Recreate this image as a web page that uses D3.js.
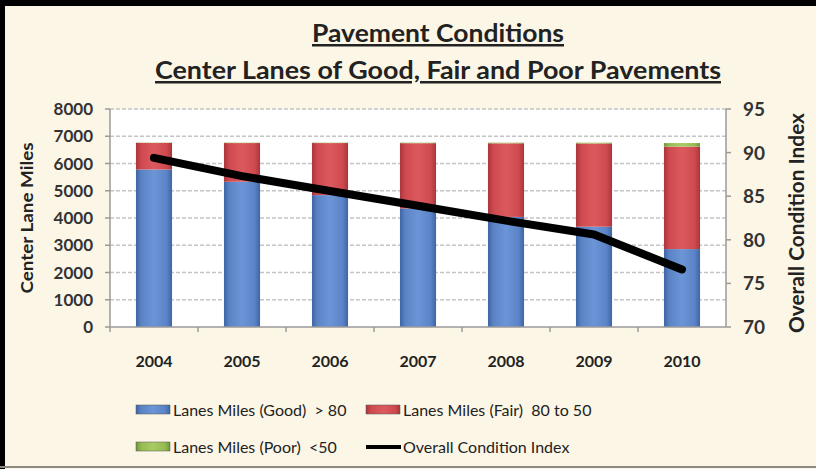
<!DOCTYPE html>
<html>
<head>
  <meta charset="utf-8">
  <script src="https://d3js.org/d3.v7.min.js"></script>
  <style>
    body { margin: 0; background: #fcf6e6; }
    svg { display: block; font-family: Lato, "Open Sans", sans-serif; }
  </style>
</head>
<body>
<script>
var years = ["2004", "2005", "2006", "2007", "2008", "2009", "2010"];
var goodMiles = [5780, 5330, 4840, 4350, 4040, 3680, 2860];
var fairMiles = [975, 1420, 1910, 2395, 2700, 3055, 3760];
var poorMiles = [10, 15, 15, 20, 25, 30, 130];
var conditionIndex = [89.4, 87.3, 85.6, 83.9, 82.2, 80.6, 76.6];
var leftTicks = [0, 1000, 2000, 3000, 4000, 5000, 6000, 7000, 8000];
var rightTicks = [70, 75, 80, 85, 90, 95];

var W = 816, H = 469;
var plot = {left: 110, right: 726, top: 109, bottom: 327};

var svg = d3.select("body").append("svg").attr("width", W).attr("height", H);

// gradients for the glossy excel look
var defs = svg.append("defs");
function grad(id, light, mid, dark) {
  var g = defs.append("linearGradient").attr("id", id).attr("x1", 0).attr("x2", 1).attr("y1", 0).attr("y2", 0);
  g.append("stop").attr("offset", "0%").attr("stop-color", dark);
  g.append("stop").attr("offset", "15%").attr("stop-color", mid);
  g.append("stop").attr("offset", "50%").attr("stop-color", light);
  g.append("stop").attr("offset", "85%").attr("stop-color", mid);
  g.append("stop").attr("offset", "100%").attr("stop-color", dark);
}
grad("gGood", "#6b95d6", "#5b84c6", "#3e64a3");
grad("gFair", "#dc5a5e", "#cf4a4f", "#a8363a");
grad("gPoor", "#a8cc63", "#95bb52", "#72963a");

svg.append("rect").attr("width", W).attr("height", H).attr("fill", "#fcf6e6");
// frame
svg.append("line").attr("x1", 0).attr("x2", W).attr("y1", 3).attr("y2", 3).attr("stroke", "#000").attr("stroke-width", 6);
svg.append("line").attr("x1", 2.5).attr("x2", 2.5).attr("y1", 0).attr("y2", H).attr("stroke", "#000").attr("stroke-width", 5);
svg.append("line").attr("x1", 0).attr("x2", W).attr("y1", 467).attr("y2", 467).attr("stroke", "#8a8a80").attr("stroke-width", 2);

// titles
var titles = ["Pavement Conditions", "Center Lanes of Good, Fair and Poor Pavements"];
titles.forEach(function(t, i) {
  svg.append("text").attr("x", 438).attr("y", 42 + i * 37)
    .attr("text-anchor", "middle").attr("font-size", 25).attr("font-weight", "bold")
    .attr("fill", "#222").attr("text-decoration", "underline")
    .attr("textLength", i === 0 ? 252 : 566).attr("lengthAdjust", "spacingAndGlyphs").text(t);
});

var x = d3.scaleBand().domain(years).range([plot.left, plot.right]).paddingInner(0.59).paddingOuter(0.295);
var xOuter = d3.scaleBand().domain(years).range([plot.left, plot.right]);
var yL = d3.scaleLinear().domain([0, 8000]).range([plot.bottom, plot.top]);
var yR = d3.scaleLinear().domain([70, 95]).range([plot.bottom, plot.top]);

svg.append("rect").attr("x", plot.left).attr("y", plot.top)
  .attr("width", plot.right - plot.left).attr("height", plot.bottom - plot.top).attr("fill", "#fff");

// gridlines
svg.append("g").selectAll("line").data(leftTicks.slice(1)).enter().append("line")
  .attr("x1", plot.left).attr("x2", plot.right)
  .attr("y1", function(d) { return yL(d); }).attr("y2", function(d) { return yL(d); })
  .attr("stroke", "#c4c4c4").attr("stroke-width", 1.5).attr("stroke-dasharray", "4,2");

// stacked bars
var data = years.map(function(y, i) {
  return {year: y, good: goodMiles[i], fair: fairMiles[i], poor: poorMiles[i]};
});
var stack = d3.stack().keys(["good", "fair", "poor"])(data);
var fills = {good: "url(#gGood)", fair: "url(#gFair)", poor: "url(#gPoor)"};
svg.append("g").selectAll("g").data(stack).enter().append("g")
  .attr("fill", function(d) { return fills[d.key]; })
  .selectAll("rect").data(function(d) { return d; }).enter().append("rect")
  .attr("x", function(d) { return x(d.data.year); })
  .attr("width", x.bandwidth())
  .attr("y", function(d) { return yL(d[1]); })
  .attr("height", function(d) { return yL(d[0]) - yL(d[1]); });

// line
var line = d3.line()
  .x(function(d, i) { return x(years[i]) + x.bandwidth() / 2; })
  .y(function(d) { return yR(d); });
svg.append("path").datum(conditionIndex).attr("d", line)
  .attr("fill", "none").attr("stroke", "#000").attr("stroke-width", 8)
  .attr("stroke-linecap", "round").attr("stroke-linejoin", "round");

// axes
var axisG = svg.append("g").attr("stroke", "#9a9a9a").attr("stroke-width", 1.5);
axisG.append("line").attr("x1", plot.left).attr("x2", plot.left).attr("y1", plot.top).attr("y2", plot.bottom);
axisG.append("line").attr("x1", plot.right).attr("x2", plot.right).attr("y1", plot.top).attr("y2", plot.bottom);
axisG.append("line").attr("x1", plot.left).attr("x2", plot.right).attr("y1", plot.bottom).attr("y2", plot.bottom);
leftTicks.forEach(function(t) {
  axisG.append("line").attr("x1", plot.left - 5).attr("x2", plot.left).attr("y1", yL(t)).attr("y2", yL(t));
});
rightTicks.forEach(function(t) {
  axisG.append("line").attr("x1", plot.right).attr("x2", plot.right + 5).attr("y1", yR(t)).attr("y2", yR(t));
});
years.forEach(function(y) {
  axisG.append("line").attr("x1", xOuter(y)).attr("x2", xOuter(y)).attr("y1", plot.bottom).attr("y2", plot.bottom + 5);
});

svg.append("g").selectAll("text").data(leftTicks).enter().append("text")
  .attr("x", 93).attr("y", function(d) { return yL(d) + 6; })
  .attr("text-anchor", "end").attr("font-size", 17).attr("font-weight", "bold").attr("fill", "#333")
  .text(function(d) { return d; });
svg.append("g").selectAll("text").data(rightTicks).enter().append("text")
  .attr("x", 743).attr("y", function(d) { return yR(d) + 7; })
  .attr("font-size", 19).attr("font-weight", "bold").attr("fill", "#333")
  .text(function(d) { return d; });
svg.append("g").selectAll("text").data(years).enter().append("text")
  .attr("x", function(d) { return x(d) + x.bandwidth() / 2; }).attr("y", 367)
  .attr("text-anchor", "middle").attr("font-size", 16).attr("font-weight", "bold").attr("fill", "#222")
  .text(function(d) { return d; });

svg.append("text").attr("transform", "translate(33,218) rotate(-90)")
  .attr("text-anchor", "middle").attr("font-size", 17).attr("font-weight", "bold").attr("fill", "#222")
  .attr("textLength", 151).attr("lengthAdjust", "spacingAndGlyphs")
  .text("Center Lane Miles");
svg.append("text").attr("transform", "translate(804,223) rotate(-90)")
  .attr("text-anchor", "middle").attr("font-size", 20).attr("font-weight", "bold").attr("fill", "#222")
  .attr("textLength", 220).attr("lengthAdjust", "spacingAndGlyphs")
  .text("Overall Condition Index");

// legend
var legendItems = [
  {label: "Lanes Miles (Good)  > 80", fill: "url(#gGood)", lx: 136, ly: 410},
  {label: "Lanes Miles (Fair)  80 to 50", fill: "url(#gFair)", lx: 366, ly: 410},
  {label: "Lanes Miles (Poor)  <50", fill: "url(#gPoor)", lx: 136, ly: 447},
  {label: "Overall Condition Index", line: true, lx: 366, ly: 447}
];
legendItems.forEach(function(d) {
  if (d.line) {
    svg.append("line").attr("x1", d.lx).attr("x2", d.lx + 35).attr("y1", d.ly).attr("y2", d.ly)
      .attr("stroke", "#000").attr("stroke-width", 4);
  } else {
    svg.append("rect").attr("x", d.lx).attr("y", d.ly - 5).attr("width", 34).attr("height", 9)
      .attr("fill", d.fill).attr("stroke", "#555").attr("stroke-width", 0.5);
  }
  svg.append("text").attr("x", d.lx + 37).attr("y", d.ly + 6)
    .attr("font-size", 16).attr("fill", "#222").attr("xml:space", "preserve").text(d.label);
});
</script>
</body>
</html>
